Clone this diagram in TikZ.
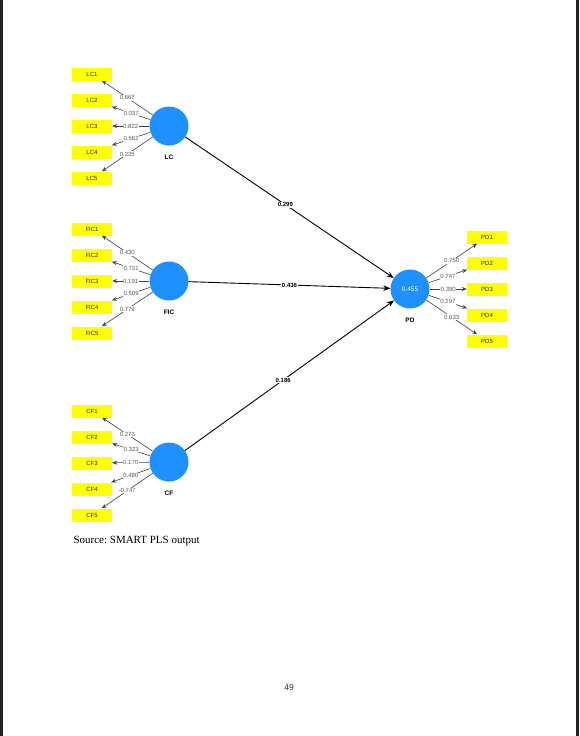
\documentclass[tikz,border=0pt]{standalone}
\usepackage{fontspec}
\setmainfont{Liberation Serif}
\setsansfont{Liberation Sans}
\usetikzlibrary{arrows.meta}
\definecolor{plsblue}{RGB}{30,144,255}
\definecolor{plsyellow}{RGB}{255,255,0}
\definecolor{pagebar}{RGB}{35,35,35}
\frenchspacing
\begin{document}
\begin{tikzpicture}[x=1pt,y=-1pt,
 ind/.style={fill=plsyellow, minimum width=40pt, minimum height=13pt, inner sep=0pt, font=\sffamily\fontsize{6}{7}\selectfont, text=black!85},
 lat/.style={circle, fill=plsblue, minimum size=39pt, inner sep=0pt, font=\sffamily\fontsize{6.5}{7}\selectfont, text=white},
 latname/.style={font=\sffamily\bfseries\fontsize{6.5}{7}\selectfont},
 load/.style={draw=black!75, line width=0.6pt, -{Stealth[length=5pt,width=4pt]}},
 loadlab/.style={fill=white, inner sep=0.6pt, text=black!65, font=\sffamily\fontsize{6}{7}\selectfont},
 pathar/.style={draw=black, line width=0.9pt, -{Stealth[length=7pt,width=5.5pt]}},
 pathlab/.style={fill=white, inner sep=0.8pt, font=\sffamily\bfseries\fontsize{6}{7}\selectfont},
]
\useasboundingbox (0,0) rectangle (579,736);
\fill[pagebar] (0,0) rectangle (3,736);
\fill[pagebar] (576,0) rectangle (579,736);

% latent variables
\node[lat] (LC) at (169,126) {};
\node[lat] (FIC) at (169,281) {};
\node[lat] (CF) at (169,462) {};
\node[lat] (PD) at (410,289) {0.455};
\node[latname] (LCn) at (169,157) {LC};
\node[latname] (FICn) at (169,312) {FIC};
\node[latname] (CFn) at (169,493) {CF};
\node[latname] (PDn) at (410,320) {PD};

% indicators
\foreach \i/\y in {1/74,2/100,3/126,4/152,5/178}
  \node[ind] (LC\i) at (92,\y) {LC\i};
\foreach \i/\y in {1/229,2/255,3/281,4/307,5/333}
  \node[ind] (FIC\i) at (92,\y) {FIC\i};
\foreach \i/\y in {1/411,2/437,3/463,4/489,5/515}
  \node[ind] (CF\i) at (92,\y) {CF\i};
\foreach \i/\y in {1/237,2/263,3/289,4/315,5/341}
  \node[ind] (PD\i) at (487,\y) {PD\i};

% loadings
\foreach \i/\v in {1/0.667,2/0.037,3/0.822,4/0.562,5/0.225}
  \draw[load] (LC) -- node[loadlab] {\v} (LC\i);
\foreach \i/\v in {1/0.430,2/0.731,3/0.191,4/0.509,5/0.779}
  \draw[load] (FIC) -- node[loadlab] {\v} (FIC\i);
\foreach \i/\v in {1/0.273,2/0.323,3/0.170,4/0.480,5/-0.747}
  \draw[load] (CF) -- node[loadlab] {\v} (CF\i);
\foreach \i/\v in {1/0.750,2/0.747,3/0.390,4/0.297,5/0.633}
  \draw[load] (PD) -- node[loadlab] {\v} (PD\i);

% paths
\draw[pathar] (LC) -- node[pathlab, pos=0.48] {0.299} (PD);
\draw[pathar] (FIC) -- node[pathlab, pos=0.5] {0.436} (PD);
\draw[pathar] (CF) -- node[pathlab, pos=0.47] {0.186} (PD);

\node[anchor=west, font=\fontsize{11}{13}\selectfont] (src) at (70,541) {Source: SMART PLS output};
\node[font=\sffamily\fontsize{8.5}{10}\selectfont, text=black!80] (pg) at (289,688) {49};
\end{tikzpicture}
\end{document}
